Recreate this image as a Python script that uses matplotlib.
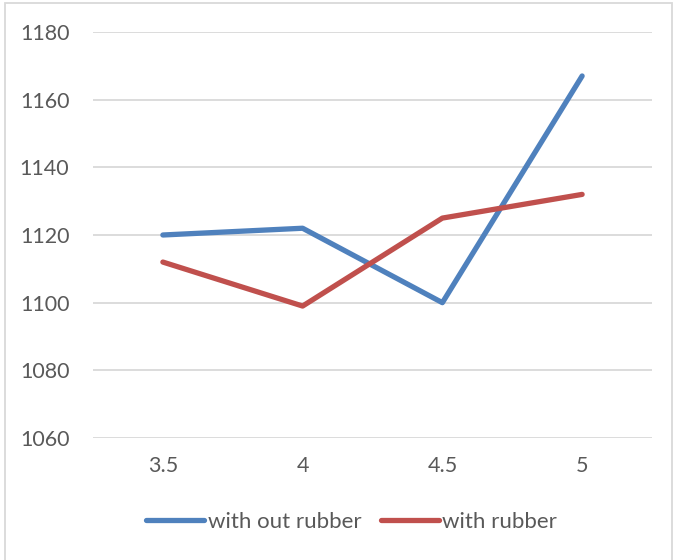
import matplotlib.pyplot as plt
from matplotlib.patches import Rectangle

categories = ["3.5", "4", "4.5", "5"]
without_rubber = [1120, 1122, 1100, 1167]
with_rubber = [1112, 1099, 1125, 1132]
y_ticks = [1060, 1080, 1100, 1120, 1140, 1160, 1180]

plt.rcParams['font.family'] = ['Lato', 'DejaVu Sans']

fig = plt.figure(figsize=(6.74, 5.6), dpi=100)
ax = fig.add_axes([93 / 674, 122 / 560, 559 / 674, 406 / 560])

x = range(len(categories))
ax.plot(x, without_rubber, color="#4F81BD", linewidth=3.8, label="with out rubber",
        solid_capstyle="round", solid_joinstyle="round")
ax.plot(x, with_rubber, color="#C0504D", linewidth=3.8, label="with rubber",
        solid_capstyle="round", solid_joinstyle="round")

ax.set_xlim(-0.5, len(categories) - 0.5)
ax.set_ylim(1060, 1180)
ax.set_xticks(list(x))
ax.set_xticklabels(categories)
ax.set_yticks(y_ticks)
ax.grid(axis="y", color="#D9D9D9", linewidth=1.3)
ax.set_axisbelow(True)
for s in ax.spines.values():
    s.set_visible(False)
ax.tick_params(length=0, labelsize=15.5, colors="#595959")
ax.tick_params(axis="x", pad=13)
ax.tick_params(axis="y", pad=17)

fig.legend(loc="center", bbox_to_anchor=(0.522, 0.068), ncol=2, frameon=False,
           fontsize=16, labelcolor="#595959", handlelength=2.6,
           handletextpad=0.15, columnspacing=0.9)

# chart border
fig.patches.append(Rectangle((5 / 674, -0.1), 667 / 674, 1.1 - 3 / 560,
                             transform=fig.transFigure, fill=False,
                             edgecolor="#D9D9D9", linewidth=1.3))

fig.savefig("out.png", dpi=100)
